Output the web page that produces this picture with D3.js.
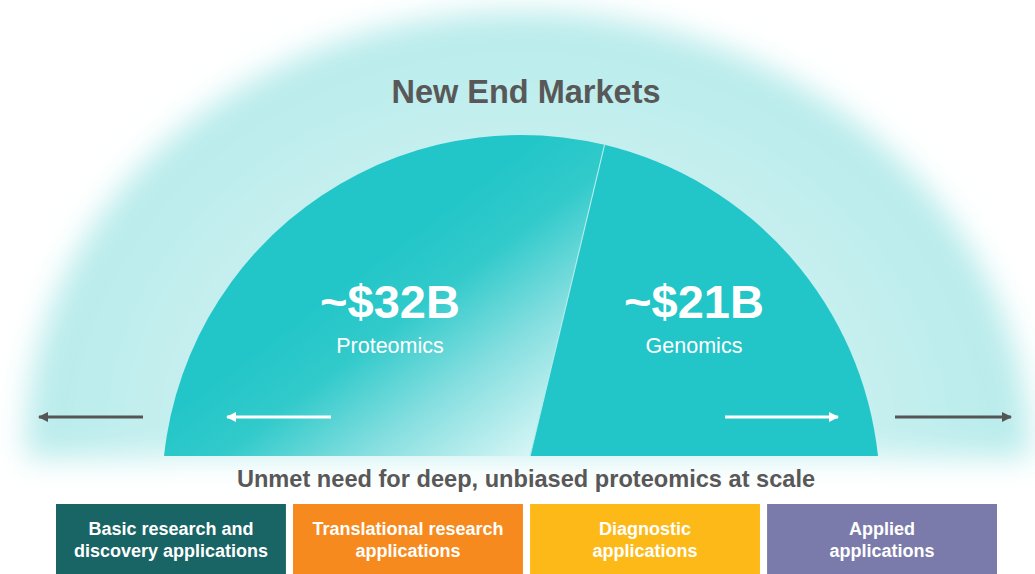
<!DOCTYPE html>
<html>
<head>
<meta charset="utf-8">
<script src="https://cdn.jsdelivr.net/npm/d3@7"></script>
<style>
    body { margin: 0; background: #fff; }
    svg { display: block; font-family: "Liberation Sans", Arial, Helvetica, sans-serif; }
</style>
</head>
<body>
<svg id="chart"></svg>
<script>
// Chart values
const segments = ["Proteomics", "Genomics"];
const marketSize = [32, 21];
const marketLabels = ["~$32B", "~$21B"];
const applications = [
    ["Basic research and", "discovery applications"],
    ["Translational research", "applications"],
    ["Diagnostic", "applications"],
    ["Applied", "applications"]
];
const appColors = ["#196565", "#f68a1e", "#fdb917", "#7b7bab"];
const title = "New End Markets";
const subtitle = "Unmet need for deep, unbiased proteomics at scale";

const width = 1035;
const height = 574;

// Layout of the half disc
const cx = 521, cy = 494, radius = 359, baseY = 456;
const deg = Math.PI / 180;

const svg = d3.select("#chart")
    .attr("width", width)
    .attr("height", height);

const defs = svg.append("defs");

// Soft halo behind the disc
const haloGrad = defs.append("radialGradient")
    .attr("id", "haloGrad")
    .attr("cx", 0.5).attr("cy", 0.5).attr("r", 0.5);
haloGrad.append("stop").attr("offset", 0.65).attr("stop-color", "#c8f0f0");
haloGrad.append("stop").attr("offset", 1).attr("stop-color", "#b8ebeb");

defs.append("filter")
    .attr("id", "blur")
    .attr("x", -0.1).attr("y", -0.1).attr("width", 1.2).attr("height", 1.2)
    .append("feGaussianBlur")
    .attr("stdDeviation", 15);

defs.append("clipPath").attr("id", "haloClip")
    .append("rect").attr("x", 0).attr("y", 0).attr("width", width).attr("height", baseY + 2);

defs.append("clipPath").attr("id", "discClip")
    .append("rect").attr("x", 0).attr("y", 0).attr("width", width).attr("height", baseY);

// Gradient for the proteomics slice (coordinates relative to the disc centre)
const protGrad = defs.append("linearGradient")
    .attr("id", "protGrad")
    .attr("gradientUnits", "userSpaceOnUse")
    .attr("x1", 385 - cx).attr("y1", 255 - cy)
    .attr("x2", 535 - cx).attr("y2", 455 - cy);
protGrad.append("stop").attr("offset", 0).attr("stop-color", "#23c6c8");
protGrad.append("stop").attr("offset", 0.25).attr("stop-color", "#32cacb");
protGrad.append("stop").attr("offset", 0.6).attr("stop-color", "#88dfe0");
protGrad.append("stop").attr("offset", 1).attr("stop-color", "#d8f6f6");

// Arrow heads
function addMarker(id, color) {
    defs.append("marker")
        .attr("id", id)
        .attr("viewBox", "0 0 10 10")
        .attr("refX", 9).attr("refY", 5)
        .attr("markerUnits", "userSpaceOnUse")
        .attr("markerWidth", 12).attr("markerHeight", 10)
        .attr("orient", "auto")
        .append("path")
        .attr("d", "M0,0 L10,5 L0,10 z")
        .attr("fill", color);
}
addMarker("arrowWhite", "#ffffff");
addMarker("arrowDark", "#555555");

// Halo
svg.append("g")
    .attr("filter", "url(#blur)")
    .append("g")
    .attr("clip-path", "url(#haloClip)")
    .append("ellipse")
    .attr("transform", "translate(528,452) rotate(3)")
    .attr("rx", 502).attr("ry", 440)
    .attr("fill", "url(#haloGrad)");

// Half disc from a pie layout
const pie = d3.pie()
    .sort(null)
    .startAngle(-94.2 * deg)
    .endAngle(84.1 * deg);

const arc = d3.arc()
    .innerRadius(0)
    .outerRadius(radius);

const slices = pie(marketSize);

const disc = svg.append("g")
    .attr("clip-path", "url(#discClip)")
    .append("g")
    .attr("transform", `translate(${cx},${cy})`);

disc.selectAll("path")
    .data(slices)
    .join("path")
    .attr("d", arc)
    .attr("fill", (d, i) => i === 0 ? "url(#protGrad)" : "#23c6c8");

// thin light seam between the slices
const split = slices[0].endAngle;
disc.append("line")
    .attr("x1", 0).attr("y1", 0)
    .attr("x2", radius * Math.sin(split))
    .attr("y2", -radius * Math.cos(split))
    .attr("stroke", "#b5ecec")
    .attr("stroke-width", 1.1);

// Slice labels
const labelX = [390, 694];
const labels = svg.append("g").attr("fill", "#fff").attr("text-anchor", "middle");
labels.selectAll(".value")
    .data(marketLabels)
    .join("text")
    .attr("class", "value")
    .attr("x", (d, i) => labelX[i])
    .attr("y", 318)
    .attr("font-size", 47)
    .attr("font-weight", "bold")
    .text(d => d);
labels.selectAll(".name")
    .data(segments)
    .join("text")
    .attr("class", "name")
    .attr("x", (d, i) => labelX[i])
    .attr("y", 353)
    .attr("font-size", 21.5)
    .text(d => d);

// Arrows
const arrowY = 417;
const arrows = [
    { from: 331, to: 223, color: "#ffffff", marker: "arrowWhite" },
    { from: 725, to: 842, color: "#ffffff", marker: "arrowWhite" },
    { from: 143, to: 35, color: "#555555", marker: "arrowDark" },
    { from: 895, to: 1015, color: "#555555", marker: "arrowDark" }
];
svg.append("g").selectAll("line")
    .data(arrows)
    .join("line")
    .attr("x1", d => d.from).attr("y1", arrowY)
    .attr("x2", d => d.to - Math.sign(d.to - d.from) * 4).attr("y2", arrowY)
    .attr("stroke", d => d.color)
    .attr("stroke-width", 3)
    .attr("marker-end", d => `url(#${d.marker})`);

// Title and subtitle
svg.append("text")
    .attr("x", 526).attr("y", 103)
    .attr("text-anchor", "middle")
    .attr("font-size", 32.5)
    .attr("font-weight", "bold")
    .attr("fill", "#585858")
    .text(title);

svg.append("text")
    .attr("x", 526).attr("y", 487)
    .attr("text-anchor", "middle")
    .attr("font-size", 23.6)
    .attr("font-weight", "bold")
    .attr("fill", "#585858")
    .text(subtitle);

// Application boxes
const x = d3.scaleBand()
    .domain(d3.range(applications.length))
    .range([56, 997])
    .paddingInner(0.03);

const boxes = svg.append("g").selectAll("g")
    .data(applications)
    .join("g")
    .attr("transform", (d, i) => `translate(${x(i)},504)`);

boxes.append("rect")
    .attr("width", x.bandwidth())
    .attr("height", height - 504)
    .attr("fill", (d, i) => appColors[i]);

boxes.append("text")
    .attr("x", x.bandwidth() / 2)
    .attr("text-anchor", "middle")
    .attr("font-size", 18)
    .attr("font-weight", "bold")
    .attr("fill", "#fff")
    .selectAll("tspan")
    .data(d => d)
    .join("tspan")
    .attr("x", x.bandwidth() / 2)
    .attr("y", (d, i) => 31 + i * 22)
    .text(d => d);
</script>
</body>
</html>
